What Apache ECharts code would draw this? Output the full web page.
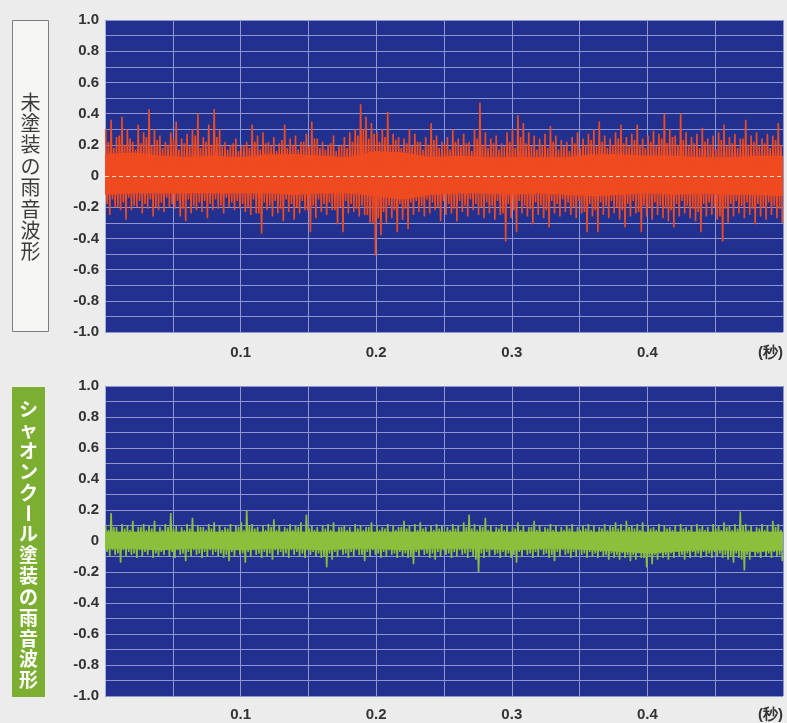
<!DOCTYPE html>
<html>
<head>
<meta charset="utf-8">
<script src="https://cdn.jsdelivr.net/npm/echarts@6/dist/echarts.min.js"></script>
<style>
html,body{margin:0;padding:0;background:#ececec;}
#chart{width:787px;height:723px;}
</style>
</head>
<body>
<div id="chart"></div>
<script>
// ---- data ----
var yTicks = [1.0, 0.8, 0.6, 0.4, 0.2, 0, -0.2, -0.4, -0.6, -0.8, -1.0];
var xTickLabels = ['0.1', '0.2', '0.3', '0.4'];
var xUnit = '(秒)';
var topTitle = '未塗装の雨音波形';
var bottomTitle = 'シャオンクール塗装の雨音波形';

// each 0.004 s column: main peak, secondary trough, secondary peak, main trough
var redUpper = [0.30,0.36,0.25,0.38,0.30,0.22,0.33,0.28,0.43,0.30,0.26,0.22,0.28,0.35,0.24,0.27,0.30,0.40,0.25,0.33,
0.43,0.30,0.22,0.20,0.24,0.19,0.22,0.33,0.26,0.28,0.22,0.25,0.21,0.33,0.24,0.26,0.22,0.27,0.35,0.24,
0.22,0.20,0.26,0.19,0.25,0.28,0.30,0.46,0.38,0.34,0.28,0.30,0.41,0.27,0.25,0.24,0.30,0.27,0.22,0.25,
0.34,0.26,0.22,0.25,0.30,0.24,0.27,0.22,0.30,0.47,0.28,0.24,0.26,0.21,0.28,0.30,0.39,0.34,0.28,0.26,
0.24,0.27,0.32,0.26,0.23,0.22,0.25,0.28,0.24,0.27,0.30,0.35,0.26,0.24,0.28,0.33,0.25,0.27,0.33,0.24,
0.26,0.29,0.27,0.40,0.30,0.26,0.40,0.28,0.25,0.27,0.31,0.24,0.26,0.28,0.33,0.25,0.27,0.24,0.36,0.26,
0.28,0.24,0.27,0.26,0.34];
var redLower = [-0.25,-0.20,-0.22,-0.28,-0.22,-0.20,-0.24,-0.21,-0.26,-0.22,-0.23,-0.20,-0.21,-0.26,-0.29,-0.24,-0.22,-0.23,-0.27,-0.22,
-0.21,-0.24,-0.20,-0.22,-0.21,-0.23,-0.25,-0.24,-0.37,-0.22,-0.26,-0.24,-0.29,-0.23,-0.28,-0.24,-0.22,-0.36,-0.27,-0.23,
-0.25,-0.22,-0.31,-0.36,-0.24,-0.23,-0.26,-0.25,-0.30,-0.51,-0.38,-0.30,-0.27,-0.36,-0.28,-0.34,-0.25,-0.23,-0.26,-0.24,
-0.22,-0.29,-0.25,-0.24,-0.29,-0.23,-0.26,-0.22,-0.25,-0.27,-0.24,-0.28,-0.25,-0.42,-0.27,-0.36,-0.24,-0.26,-0.31,-0.25,
-0.27,-0.33,-0.24,-0.26,-0.23,-0.25,-0.27,-0.24,-0.36,-0.26,-0.36,-0.25,-0.27,-0.24,-0.28,-0.33,-0.26,-0.24,-0.36,-0.26,
-0.28,-0.25,-0.27,-0.29,-0.33,-0.26,-0.24,-0.27,-0.29,-0.36,-0.26,-0.25,-0.28,-0.42,-0.30,-0.26,-0.24,-0.27,-0.25,-0.31,
-0.26,-0.28,-0.25,-0.27,-0.30];
var redUpper2 = [0.22,0.18,0.26,0.20,0.24,0.17,0.21,0.25,0.19,0.23,0.18,0.20,0.24,0.17,0.21,0.19,0.26,0.18,0.22,0.20,
0.25,0.19,0.17,0.21,0.16,0.20,0.18,0.22,0.17,0.21,0.19,0.16,0.23,0.18,0.20,0.17,0.22,0.19,0.24,0.18,
0.17,0.21,0.16,0.20,0.18,0.22,0.26,0.30,0.24,0.27,0.22,0.25,0.20,0.23,0.18,0.21,0.19,0.22,0.17,0.20,
0.23,0.18,0.20,0.17,0.22,0.19,0.21,0.16,0.24,0.20,0.18,0.21,0.17,0.19,0.22,0.18,0.25,0.21,0.19,0.17,
0.20,0.18,0.22,0.17,0.19,0.16,0.21,0.18,0.20,0.23,0.19,0.22,0.18,0.20,0.24,0.21,0.19,0.23,0.20,0.18,
0.22,0.19,0.24,0.21,0.25,0.20,0.23,0.19,0.21,0.18,0.22,0.20,0.17,0.23,0.19,0.21,0.18,0.24,0.20,0.22,
0.19,0.21,0.18,0.23,0.20];
var redLower2 = [-0.18,-0.15,-0.20,-0.17,-0.14,-0.19,-0.16,-0.18,-0.15,-0.20,-0.17,-0.14,-0.18,-0.16,-0.21,-0.15,-0.19,-0.17,-0.16,-0.18,
-0.15,-0.19,-0.14,-0.17,-0.16,-0.18,-0.20,-0.15,-0.24,-0.17,-0.19,-0.16,-0.21,-0.15,-0.18,-0.20,-0.16,-0.22,-0.19,-0.15,
-0.18,-0.17,-0.22,-0.20,-0.16,-0.18,-0.21,-0.19,-0.25,-0.30,-0.27,-0.23,-0.19,-0.22,-0.18,-0.21,-0.17,-0.16,-0.19,-0.15,
-0.17,-0.20,-0.16,-0.18,-0.21,-0.16,-0.19,-0.15,-0.18,-0.20,-0.17,-0.19,-0.16,-0.24,-0.18,-0.22,-0.16,-0.19,-0.21,-0.17,
-0.19,-0.22,-0.16,-0.18,-0.15,-0.17,-0.20,-0.16,-0.23,-0.18,-0.22,-0.17,-0.19,-0.16,-0.20,-0.22,-0.18,-0.16,-0.23,-0.19,
-0.20,-0.17,-0.19,-0.21,-0.22,-0.18,-0.16,-0.19,-0.21,-0.23,-0.18,-0.17,-0.20,-0.26,-0.21,-0.18,-0.16,-0.19,-0.17,-0.21,
-0.18,-0.20,-0.17,-0.19,-0.21];

var greenUpper = [0.10,0.18,0.09,0.11,0.10,0.13,0.09,0.11,0.10,0.13,0.09,0.11,0.18,0.10,0.09,0.11,0.15,0.10,0.09,0.11,
0.12,0.10,0.09,0.11,0.10,0.12,0.20,0.11,0.09,0.10,0.11,0.14,0.10,0.09,0.11,0.10,0.12,0.17,0.10,0.09,
0.10,0.11,0.12,0.09,0.10,0.09,0.11,0.10,0.09,0.12,0.10,0.09,0.11,0.10,0.09,0.13,0.10,0.11,0.12,0.09,
0.10,0.11,0.10,0.09,0.11,0.10,0.12,0.17,0.11,0.10,0.15,0.10,0.09,0.11,0.10,0.09,0.12,0.10,0.09,0.13,
0.10,0.09,0.11,0.10,0.09,0.10,0.11,0.09,0.10,0.11,0.10,0.09,0.11,0.10,0.12,0.11,0.13,0.10,0.11,0.12,
0.10,0.09,0.11,0.10,0.09,0.10,0.11,0.09,0.10,0.11,0.10,0.09,0.11,0.10,0.12,0.10,0.11,0.19,0.11,0.10,
0.09,0.11,0.10,0.13,0.11];
var greenLower = [-0.10,-0.09,-0.14,-0.10,-0.09,-0.11,-0.10,-0.09,-0.11,-0.10,-0.09,-0.10,-0.11,-0.09,-0.13,-0.10,-0.09,-0.11,-0.10,-0.09,
-0.10,-0.11,-0.13,-0.10,-0.09,-0.14,-0.10,-0.09,-0.11,-0.10,-0.12,-0.09,-0.10,-0.11,-0.09,-0.10,-0.11,-0.09,-0.10,-0.11,
-0.17,-0.12,-0.10,-0.09,-0.11,-0.10,-0.09,-0.13,-0.10,-0.09,-0.11,-0.10,-0.09,-0.11,-0.10,-0.11,-0.15,-0.10,-0.09,-0.11,
-0.12,-0.10,-0.09,-0.11,-0.10,-0.09,-0.11,-0.10,-0.20,-0.11,-0.10,-0.09,-0.11,-0.10,-0.11,-0.14,-0.10,-0.09,-0.11,-0.10,
-0.09,-0.11,-0.13,-0.10,-0.09,-0.11,-0.10,-0.09,-0.11,-0.10,-0.11,-0.10,-0.12,-0.11,-0.12,-0.11,-0.13,-0.12,-0.11,-0.17,
-0.15,-0.12,-0.11,-0.12,-0.11,-0.10,-0.12,-0.11,-0.10,-0.11,-0.10,-0.11,-0.10,-0.11,-0.12,-0.14,-0.11,-0.19,-0.12,-0.10,
-0.11,-0.10,-0.11,-0.10,-0.13];
var greenUpper2 = [0.07,0.09,0.06,0.08,0.07,0.06,0.09,0.07,0.08,0.06,0.07,0.09,0.08,0.06,0.07,0.08,0.06,0.09,0.07,0.08,
0.06,0.07,0.08,0.06,0.09,0.07,0.10,0.08,0.06,0.07,0.09,0.07,0.06,0.08,0.07,0.09,0.06,0.08,0.07,0.06,
0.08,0.07,0.06,0.09,0.07,0.06,0.08,0.07,0.09,0.06,0.07,0.08,0.06,0.07,0.09,0.08,0.06,0.07,0.08,0.06,
0.07,0.08,0.06,0.07,0.08,0.06,0.09,0.08,0.07,0.09,0.07,0.06,0.08,0.07,0.06,0.08,0.07,0.06,0.09,0.07,
0.06,0.08,0.07,0.06,0.07,0.08,0.06,0.07,0.08,0.07,0.06,0.08,0.07,0.09,0.08,0.07,0.09,0.08,0.07,0.06,
0.08,0.07,0.06,0.08,0.07,0.06,0.08,0.07,0.06,0.08,0.07,0.06,0.08,0.07,0.09,0.07,0.08,0.10,0.07,0.06,
0.08,0.07,0.06,0.09,0.07];
var greenLower2 = [-0.07,-0.06,-0.08,-0.06,-0.07,-0.08,-0.06,-0.07,-0.06,-0.08,-0.07,-0.06,-0.07,-0.06,-0.08,-0.07,-0.06,-0.08,-0.07,-0.06,
-0.07,-0.08,-0.09,-0.07,-0.06,-0.08,-0.07,-0.06,-0.08,-0.07,-0.08,-0.06,-0.07,-0.08,-0.06,-0.07,-0.08,-0.06,-0.07,-0.08,
-0.10,-0.08,-0.07,-0.06,-0.08,-0.07,-0.06,-0.09,-0.07,-0.06,-0.08,-0.07,-0.06,-0.08,-0.07,-0.08,-0.10,-0.07,-0.06,-0.08,
-0.08,-0.07,-0.06,-0.08,-0.07,-0.06,-0.08,-0.07,-0.12,-0.08,-0.07,-0.06,-0.08,-0.07,-0.08,-0.09,-0.07,-0.06,-0.08,-0.07,
-0.06,-0.08,-0.09,-0.07,-0.06,-0.08,-0.07,-0.06,-0.08,-0.07,-0.08,-0.07,-0.09,-0.08,-0.09,-0.08,-0.09,-0.09,-0.08,-0.11,
-0.10,-0.09,-0.08,-0.09,-0.08,-0.07,-0.09,-0.08,-0.07,-0.08,-0.07,-0.08,-0.07,-0.08,-0.09,-0.10,-0.08,-0.12,-0.09,-0.07,
-0.08,-0.07,-0.08,-0.07,-0.09];

// fully solid core of each waveform, every 0.02 s from 0 to 0.5
var redCoreHi = [0.14,0.15,0.13,0.12,0.13,0.12,0.14,0.14,0.13,0.12,0.16,0.15,0.12,0.13,0.12,0.12,0.12,0.12,0.14,0.14,0.13,0.13,0.12,0.12,0.13,0.13];
var redCoreLo = [-0.12,-0.11,-0.11,-0.11,-0.11,-0.11,-0.11,-0.12,-0.11,-0.11,-0.13,-0.15,-0.12,-0.11,-0.11,-0.12,-0.11,-0.12,-0.13,-0.12,-0.11,-0.12,-0.11,-0.12,-0.12,-0.13];
var greenCoreHi = [0.06,0.06,0.06,0.06,0.06,0.06,0.06,0.06,0.06,0.06,0.06,0.06,0.06,0.06,0.06,0.06,0.06,0.06,0.06,0.06,0.06,0.06,0.06,0.06,0.06,0.06];
var greenCoreLo = [-0.05,-0.05,-0.06,-0.05,-0.05,-0.06,-0.05,-0.05,-0.06,-0.05,-0.05,-0.06,-0.05,-0.05,-0.05,-0.06,-0.05,-0.05,-0.06,-0.07,-0.08,-0.07,-0.06,-0.06,-0.07,-0.06];

var COL = 0.004, CORE_STEP = 0.02;

function zigzag(up, lo2, up2, lo) {
  var out = [];
  var q = COL / 4;
  for (var i = 0; i < up.length; i++) {
    var t = COL * i + q / 2;
    out.push([+t.toFixed(5), up[i]]);
    out.push([+(t + q).toFixed(5), lo2[i]]);
    out.push([+(t + 2 * q).toFixed(5), up2[i]]);
    out.push([+(t + 3 * q).toFixed(5), lo[i]]);
  }
  return out;
}
function core(arr) {
  return arr.map(function (v, k) { return [+(k * CORE_STEP).toFixed(3), v]; });
}

var RED = '#ef4a20', GREEN = '#8cc03c', BLUE = '#22318f', GRIDC = '#8e97cc';
var labelFont = { color: '#333', fontSize: 15, fontWeight: 'bold', fontFamily: 'Liberation Sans, Arial, sans-serif' };

function xAxisFor(idx, margin) {
  return {
    type: 'value', gridIndex: idx, min: 0, max: 0.5, interval: 0.05,
    axisLine: { show: false }, axisTick: { show: false },
    splitLine: { show: true, lineStyle: { color: GRIDC, width: 1 } },
    axisLabel: Object.assign({}, labelFont, {
      margin: margin, alignMaxLabel: 'right', showMinLabel: true, showMaxLabel: true,
      formatter: function (v) {
        var k = Math.round(v * 100);
        if (k === 50) return xUnit;
        if (k % 10 === 0 && k > 0) return xTickLabels[k / 10 - 1];
        return '';
      }
    })
  };
}
function yAxisFor(idx) {
  return {
    type: 'value', gridIndex: idx, min: -1, max: 1, interval: 0.1,
    axisLine: { show: true, lineStyle: { color: '#9fb0e0', width: 1 } }, axisTick: { show: false },
    splitLine: { show: true, lineStyle: { color: GRIDC, width: 1 } },
    axisLabel: Object.assign({}, labelFont, {
      margin: 6,
      formatter: function (v) {
        var k = Math.round(v * 10);
        if (k % 2 !== 0) return '';
        for (var j = 0; j < yTicks.length; j++) {
          if (Math.round(yTicks[j] * 10) === k) return k === 0 ? '0' : yTicks[j].toFixed(1);
        }
        return '';
      }
    })
  };
}

// vertical label characters
var graphics = [
  { type: 'rect', shape: { x: 12.5, y: 20.5, width: 36, height: 311 }, style: { fill: '#f6f6f4', stroke: '#7d7d7d', lineWidth: 1 }, z: 0 },
  { type: 'rect', shape: { x: 12, y: 387, width: 33, height: 310 }, style: { fill: '#7cae32' }, z: 0 }
];
topTitle.split('').forEach(function (ch, k) {
  graphics.push({ type: 'text', x: 30.5, y: 102 + k * 21.4, z: 1,
    style: { text: ch, fill: '#3c3c3c', fontSize: 20, fontFamily: 'Noto Sans CJK JP', align: 'center', verticalAlign: 'middle' } });
});
bottomTitle.split('').forEach(function (ch, k) {
  graphics.push({ type: 'text', x: 28.5, y: 409 + k * 20.85, z: 1, rotation: ch === 'ー' ? -Math.PI / 2 : 0,
    style: { text: ch, fill: '#ffffff', fontSize: 19, fontWeight: 'bold', fontFamily: 'Noto Sans CJK JP', align: 'center', verticalAlign: 'middle' } });
});

var chart = echarts.init(document.getElementById('chart'), null, { renderer: 'canvas' });
chart.setOption({
  animation: false,
  backgroundColor: '#ececec',
  grid: [
    { left: 105, right: 4, top: 20, height: 312, show: true, backgroundColor: BLUE, borderWidth: 0 },
    { left: 105, right: 4, top: 386, height: 310, show: true, backgroundColor: BLUE, borderWidth: 0 }
  ],
  xAxis: [xAxisFor(0, 13), xAxisFor(1, 11)],
  yAxis: [yAxisFor(0), yAxisFor(1)],
  graphic: graphics,
  series: [
    { type: 'line', xAxisIndex: 0, yAxisIndex: 0, data: core(redCoreHi), showSymbol: false, lineStyle: { width: 0 }, areaStyle: { color: RED, opacity: 1, origin: 0 }, z: 2 },
    { type: 'line', xAxisIndex: 0, yAxisIndex: 0, data: core(redCoreLo), showSymbol: false, lineStyle: { width: 0 }, areaStyle: { color: RED, opacity: 1, origin: 0 }, z: 2 },
    { type: 'line', xAxisIndex: 0, yAxisIndex: 0, data: zigzag(redUpper, redLower2, redUpper2, redLower), showSymbol: false,
      sampling: null, lineStyle: { color: RED, width: 1.6, join: 'bevel' }, z: 3,
      markLine: { silent: true, symbol: ['none', 'none'], label: { show: false },
        lineStyle: { color: '#f3d9c8', type: [4, 3], width: 1.2 }, data: [{ yAxis: 0 }] } },
    { type: 'line', xAxisIndex: 1, yAxisIndex: 1, data: core(greenCoreHi), showSymbol: false, lineStyle: { width: 0 }, areaStyle: { color: GREEN, opacity: 1, origin: 0 }, z: 2 },
    { type: 'line', xAxisIndex: 1, yAxisIndex: 1, data: core(greenCoreLo), showSymbol: false, lineStyle: { width: 0 }, areaStyle: { color: GREEN, opacity: 1, origin: 0 }, z: 2 },
    { type: 'line', xAxisIndex: 1, yAxisIndex: 1, data: zigzag(greenUpper, greenLower2, greenUpper2, greenLower), showSymbol: false,
      sampling: null, lineStyle: { color: GREEN, width: 1.6, join: 'bevel' }, z: 3 }
  ]
});
</script>
</body>
</html>
